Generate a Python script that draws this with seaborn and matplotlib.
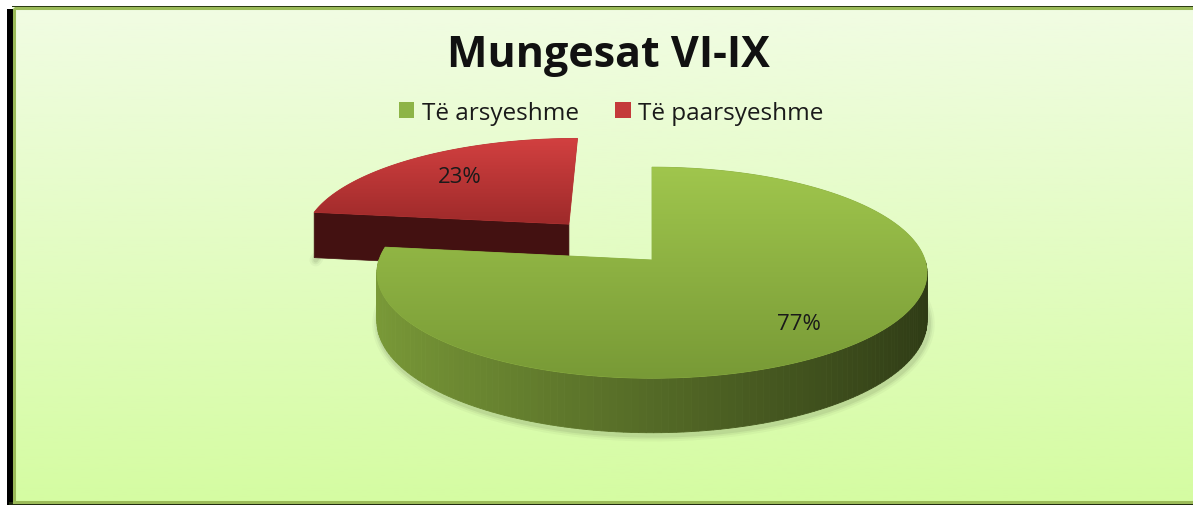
import numpy as np
import matplotlib
matplotlib.use("Agg")
import matplotlib.pyplot as plt
import seaborn as sns
from matplotlib.patches import Polygon, Rectangle, Patch
from matplotlib.colors import LinearSegmentedColormap, to_rgb

# ---------------- data ----------------
title = "Mungesat VI-IX"
categories = ["Të arsyeshme", "Të paarsyeshme"]
values = [77, 23]
labels = ["77%", "23%"]

# ---------------- style ----------------
explode = [0.0, 0.48]
top_colors = [("#a0c64d", "#789a36"), ("#d24040", "#9e2a2a")]
wall_colors = [("#7a9a38", "#2e3a15"), ("#5a1818", "#3a0c0c")]
face_colors = ["#3c2a12", "#431111"]
legend_colors = ["#8db447", "#c43a3a"]

sns.set_theme(style="white")
plt.rcParams['font.family'] = ['Open Sans', 'DejaVu Sans']

W, H = 1193, 506
fig = plt.figure(figsize=(W / 100, H / 100), dpi=100)
ax = fig.add_axes([0, 0, 1, 1])
ax.axis('off')

grad = np.linspace(0, 1, 256)[:, None]

# background and frame
bg_cmap = LinearSegmentedColormap.from_list('bg', ['#f1fce3', '#d5fca2'])
ax.imshow(grad, cmap=bg_cmap, extent=[12, W, 504, 8], aspect='auto', zorder=0)
ax.add_patch(Rectangle((7, 10), 6, H - 10, color='black', zorder=1, lw=0))
ax.add_patch(Rectangle((9, 503), W, 4, color='#1e2a0e', zorder=1, lw=0))
ax.add_patch(Rectangle((12, 6.5), W, 1.5, color='#2a3a14', zorder=1, lw=0))
ax.add_patch(Rectangle((13.5, 8.5), W - 12, 494.5, fill=False,
                       edgecolor='#9bbb59', lw=2.2, zorder=1))

# projection of the tilted pie
CX, CY, RX, RY, DEPTH, K = 652, 261, 273, 104, 48, 0.12


def proj(u, v, z):
    f = 1.0 / (1.0 + K * v)
    return CX + RX * u * f, CY - RY * v * f + DEPTH * z * f


def mix(c1, c2, t):
    a, b = np.array(to_rgb(c1)), np.array(to_rgb(c2))
    return tuple(a + (b - a) * t)


total = float(sum(values))
start = 0.0
order = sorted(range(len(values)), key=lambda i: -explode[i])
slices = []
for i, v in enumerate(values):
    a0 = start
    a1 = start + 360.0 * v / total
    start = a1
    slices.append((a0, a1))

for rank, i in enumerate(order):
    a0, a1 = slices[i]
    m = np.radians((a0 + a1) / 2)
    ou, ov = explode[i] * np.sin(m), explode[i] * np.cos(m)
    base_z = 2 + rank * 3
    th = np.radians(np.linspace(a0, a1, 200))
    rim_u = ou + np.sin(th)
    rim_v = ov + np.cos(th)

    # soft shadow along the lower rim
    front = np.cos(th) < 0.15
    if front.any():
        sx, sy = zip(*[proj(a, b, 1) for a, b in zip(rim_u[front], rim_v[front])])
        sx = np.array(sx) + 1.5
        sy = np.array(sy) + 2.5
        for lw, al in ((9, 0.04), (6, 0.06), (3.5, 0.08)):
            ax.plot(sx, sy, color='#2b3320', lw=lw, alpha=al,
                    solid_capstyle='round', zorder=base_z - 0.5)

    # radial faces
    for edge, nang in ((a0, a0 - 90), (a1, a1 + 90)):
        if np.cos(np.radians(nang)) < 0:
            e = np.radians(edge)
            pts = [proj(ou, ov, 0), proj(ou + np.sin(e), ov + np.cos(e), 0),
                   proj(ou + np.sin(e), ov + np.cos(e), 1), proj(ou, ov, 1)]
            ax.add_patch(Polygon(pts, closed=True, facecolor=face_colors[i],
                                 edgecolor=face_colors[i], lw=0.5, zorder=base_z))

    # outer wall
    for j in range(len(th) - 1):
        tm = (th[j] + th[j + 1]) / 2
        if np.cos(tm) < 0:
            t = (np.sin(tm) + 1) / 2
            c = mix(wall_colors[i][0], wall_colors[i][1], t)
            pts = [proj(rim_u[j], rim_v[j], 0), proj(rim_u[j + 1], rim_v[j + 1], 0),
                   proj(rim_u[j + 1], rim_v[j + 1], 1), proj(rim_u[j], rim_v[j], 1)]
            ax.add_patch(Polygon(pts, closed=True, facecolor=c, edgecolor=c,
                                 lw=0.6, zorder=base_z))

    # top face with gradient
    pts = [proj(ou, ov, 0)] + [proj(a, b, 0) for a, b in zip(rim_u, rim_v)]
    pts = np.array(pts)
    cmap = LinearSegmentedColormap.from_list('t%d' % i, list(top_colors[i]))
    poly = Polygon(pts, closed=True, facecolor=mix(*top_colors[i], 0.5),
                   edgecolor=mix(*top_colors[i], 0.5), lw=0.6, zorder=base_z + 1)
    ax.add_patch(poly)
    im = ax.imshow(grad, cmap=cmap,
                   extent=[pts[:, 0].min(), pts[:, 0].max(), pts[:, 1].max(), pts[:, 1].min()],
                   aspect='auto', zorder=base_z + 1.1)
    im.set_clip_path(poly)

    # percentage label
    r = 0.70 if explode[i] > 0 else 0.76
    lu, lv = ou + r * np.sin(m), ov + r * np.cos(m)
    lx, ly = proj(lu, lv, 0)
    ax.text(lx, ly, labels[i], ha='center', va='center', fontsize=16,
            color='#1a1a1a', zorder=20)

ax.set_xlim(0, W)
ax.set_ylim(H, 0)

# title and legend
ax.text(608, 67, title, ha='center', va='baseline', fontsize=31,
        fontweight='bold', color='#111111', zorder=20)
handles = [Patch(facecolor=c, edgecolor='none') for c in legend_colors]
fig.legend(handles, categories, loc='center', bbox_to_anchor=(611 / W, 1 - 114 / H),
           ncol=2, frameon=False, fontsize=17.5, handlelength=0.64, handleheight=0.64,
           handletextpad=0.3, columnspacing=1.5, labelcolor='#1a1a1a')

fig.savefig("out.png", dpi=100)
